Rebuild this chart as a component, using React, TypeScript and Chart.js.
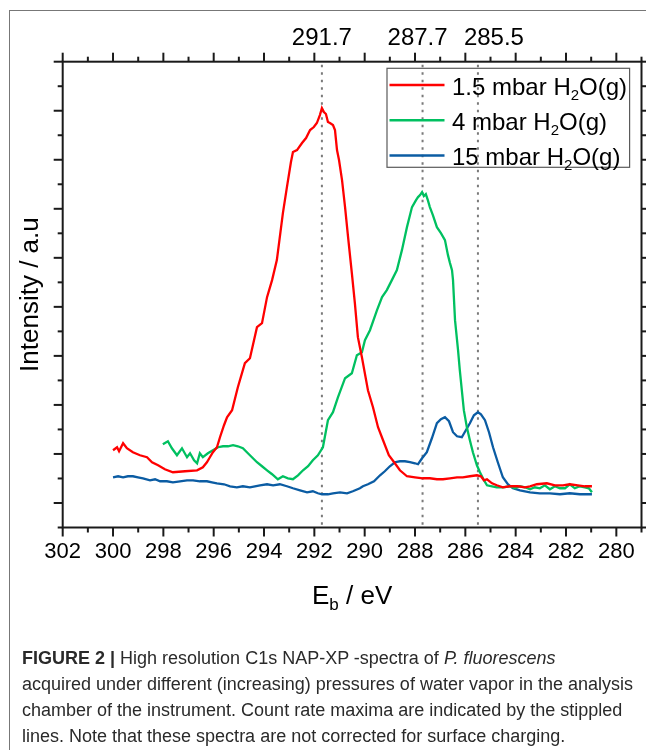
import React, { useEffect, useRef } from 'react';
import { Chart, registerables } from 'chart.js';

Chart.register(...registerables);

// ---------- data (binding energy in eV, intensity in a.u.) ----------
const redEnergy = [300.00, 299.84, 299.76, 299.60, 299.45, 299.21, 298.93, 298.65, 298.45, 298.21, 297.94, 297.62, 297.14, 296.66, 296.43, 296.27, 296.15, 296.03, 295.87, 295.75, 295.59, 295.47, 295.27, 295.04, 294.76, 294.56, 294.28, 294.08, 293.88, 293.68, 293.49, 293.25, 293.09, 292.93, 292.85, 292.69, 292.49, 292.33, 292.17, 292.02, 291.90, 291.78, 291.70, 291.62, 291.54, 291.46, 291.38, 291.26, 291.18, 291.10, 291.02, 290.90, 290.78, 290.66, 290.51, 290.39, 290.27, 290.11, 289.87, 289.67, 289.47, 289.27, 289.04, 288.80, 288.60, 288.32, 288.00, 287.69, 287.41, 287.13, 286.89, 286.61, 286.33, 286.10, 285.82, 285.54, 285.38, 285.26, 285.14, 284.94, 284.75, 284.51, 284.23, 283.91, 283.63, 283.43, 283.16, 282.76, 282.44, 282.12, 281.85, 281.53, 281.25, 280.97];
const redIntensity = [1.076, 1.137, 1.055, 1.218, 1.116, 1.035, 0.973, 0.933, 0.831, 0.769, 0.688, 0.627, 0.647, 0.667, 0.729, 0.831, 0.933, 1.035, 1.137, 1.341, 1.586, 1.749, 1.892, 2.361, 2.851, 2.953, 3.586, 3.667, 4.198, 4.545, 4.953, 5.912, 6.443, 6.953, 7.157, 7.198, 7.341, 7.443, 7.606, 7.667, 7.749, 7.912, 8.055, 7.973, 7.933, 7.769, 7.749, 7.708, 7.606, 7.198, 6.994, 6.586, 6.035, 5.422, 4.688, 4.076, 3.382, 2.973, 2.300, 1.953, 1.545, 1.280, 0.973, 0.810, 0.667, 0.545, 0.524, 0.504, 0.504, 0.484, 0.484, 0.504, 0.524, 0.524, 0.545, 0.565, 0.545, 0.463, 0.484, 0.402, 0.361, 0.320, 0.341, 0.341, 0.320, 0.341, 0.382, 0.402, 0.361, 0.361, 0.382, 0.361, 0.341, 0.341];

const greenEnergy = [298.02, 297.82, 297.66, 297.46, 297.26, 297.06, 296.94, 296.78, 296.66, 296.55, 296.43, 296.23, 296.03, 295.83, 295.63, 295.43, 295.23, 295.04, 294.84, 294.64, 294.48, 294.28, 294.08, 293.88, 293.68, 293.45, 293.25, 293.05, 292.85, 292.65, 292.45, 292.25, 292.06, 291.86, 291.66, 291.46, 291.26, 291.06, 290.78, 290.51, 290.31, 290.11, 289.99, 289.79, 289.51, 289.31, 289.12, 288.92, 288.72, 288.52, 288.32, 288.12, 287.96, 287.88, 287.80, 287.72, 287.65, 287.57, 287.49, 287.41, 287.29, 287.13, 286.97, 286.81, 286.69, 286.61, 286.53, 286.49, 286.41, 286.29, 286.22, 286.14, 286.06, 285.94, 285.82, 285.70, 285.54, 285.42, 285.26, 285.14, 284.94, 284.75, 284.51, 284.23, 284.03, 283.83, 283.63, 283.43, 283.24, 283.04, 282.84, 282.64, 282.44, 282.24, 282.04, 281.85, 281.65, 281.45, 281.25, 281.09, 280.97];
const greenIntensity = [1.198, 1.259, 1.116, 0.973, 1.116, 0.933, 1.014, 0.871, 0.810, 1.014, 0.933, 1.014, 1.076, 1.137, 1.157, 1.157, 1.178, 1.157, 1.116, 1.014, 0.933, 0.831, 0.749, 0.667, 0.586, 0.484, 0.545, 0.504, 0.484, 0.565, 0.667, 0.749, 0.871, 0.973, 1.137, 1.688, 1.851, 2.157, 2.545, 2.647, 3.014, 3.076, 3.320, 3.524, 3.933, 4.198, 4.341, 4.545, 4.749, 5.157, 5.626, 6.035, 6.178, 6.239, 6.280, 6.341, 6.259, 6.300, 6.178, 6.035, 5.871, 5.626, 5.504, 5.361, 5.055, 4.892, 4.749, 4.545, 3.729, 3.116, 2.708, 2.300, 1.892, 1.545, 1.280, 1.035, 0.769, 0.627, 0.463, 0.361, 0.341, 0.320, 0.320, 0.341, 0.300, 0.341, 0.320, 0.280, 0.320, 0.300, 0.361, 0.280, 0.341, 0.300, 0.300, 0.382, 0.300, 0.341, 0.320, 0.300, 0.218];

const blueEnergy = [300.00, 299.80, 299.60, 299.41, 299.21, 299.01, 298.81, 298.53, 298.33, 298.13, 297.86, 297.62, 297.34, 297.06, 296.82, 296.55, 296.27, 296.07, 295.87, 295.59, 295.35, 295.08, 294.84, 294.56, 294.36, 294.16, 293.88, 293.64, 293.37, 293.09, 292.85, 292.57, 292.29, 292.06, 291.86, 291.70, 291.46, 291.26, 290.98, 290.70, 290.47, 290.19, 290.07, 289.87, 289.63, 289.39, 289.20, 289.00, 288.80, 288.60, 288.40, 288.20, 288.00, 287.88, 287.72, 287.53, 287.33, 287.13, 286.97, 286.81, 286.65, 286.49, 286.33, 286.14, 285.98, 285.82, 285.66, 285.50, 285.38, 285.22, 285.06, 284.90, 284.71, 284.51, 284.31, 284.11, 283.83, 283.43, 283.04, 282.64, 282.24, 281.85, 281.45, 280.97];
const blueIntensity = [0.524, 0.545, 0.524, 0.545, 0.545, 0.524, 0.504, 0.463, 0.484, 0.443, 0.443, 0.422, 0.443, 0.463, 0.463, 0.443, 0.443, 0.422, 0.402, 0.382, 0.341, 0.320, 0.341, 0.320, 0.341, 0.361, 0.382, 0.361, 0.382, 0.341, 0.300, 0.259, 0.218, 0.239, 0.198, 0.178, 0.178, 0.198, 0.218, 0.198, 0.239, 0.300, 0.341, 0.382, 0.443, 0.565, 0.647, 0.749, 0.831, 0.851, 0.851, 0.831, 0.810, 0.790, 0.912, 1.035, 1.320, 1.627, 1.708, 1.749, 1.667, 1.443, 1.361, 1.341, 1.484, 1.627, 1.790, 1.851, 1.810, 1.688, 1.443, 1.137, 0.831, 0.524, 0.382, 0.300, 0.259, 0.218, 0.198, 0.198, 0.178, 0.198, 0.178, 0.178];

const seriesNames = ['1.5 mbar', '4 mbar', '15 mbar'];
const seriesColors = ['#ff0000', '#00c060', '#0b5ca3'];
const peakPositions = [291.7, 287.7, 285.5];
const peakLabels = ['291.7', '287.7', '285.5'];
const xTickLabels = [302, 300, 298, 296, 294, 292, 290, 288, 286, 284, 282, 280];
const xMin = 279;
const xMax = 302;
const yMin = -0.5;
const yMax = 9;

const FONT = "'Liberation Sans', Arial, sans-serif";

const line = (ctx: CanvasRenderingContext2D, x1: number, y1: number, x2: number, y2: number) => {
  ctx.beginPath();
  ctx.moveTo(x1, y1);
  ctx.lineTo(x2, y2);
  ctx.stroke();
};

const decorPlugin = {
  id: 'decor',
  beforeDatasetsDraw(chart: any) {
    const { ctx, chartArea: a, scales } = chart;
    ctx.save();
    ctx.strokeStyle = '#7a7a7a';
    ctx.lineWidth = 2;
    ctx.setLineDash([2.5, 5]);
    peakPositions.forEach((p) => {
      const px = scales.x.getPixelForValue(p);
      line(ctx, px, a.top + 3, px, a.bottom);
    });
    ctx.restore();
  },
  afterDraw(chart: any) {
    const { ctx, chartArea: a, scales } = chart;
    const xs = scales.x;
    const ys = scales.y;
    ctx.save();
    ctx.strokeStyle = '#1a1a1a';
    ctx.lineWidth = 2;
    ctx.setLineDash([]);
    ctx.strokeRect(a.left, a.top, a.right - a.left, a.bottom - a.top);
    for (let v = xMin; v <= xMax; v++) {
      const len = v % 2 === 0 ? 9 : 5;
      const px = xs.getPixelForValue(v);
      line(ctx, px, a.bottom, px, a.bottom + len);
      line(ctx, px, a.top, px, a.top - len);
    }
    for (let k = yMin * 2; k <= yMax * 2; k++) {
      const v = k / 2;
      const len = k % 2 === 0 ? 9 : 5;
      const py = ys.getPixelForValue(v);
      line(ctx, a.left - len, py, a.left, py);
      line(ctx, a.right, py, a.right + len, py);
    }

    // top labels at the peak maxima (nudged apart so they do not collide)
    ctx.fillStyle = '#000';
    ctx.font = `24px ${FONT}`;
    ctx.textAlign = 'center';
    ctx.textBaseline = 'alphabetic';
    const nudges = [0, -5, 16];
    peakLabels.forEach((lab, i) => {
      const px = xs.getPixelForValue(peakPositions[i]) + nudges[i];
      ctx.fillText(lab, px, a.top - 17);
    });

    // legend
    const bx = a.right - 254.5;
    const by = a.top + 6.6;
    const bw = 242.6;
    const bh = 99;
    ctx.lineWidth = 1.2;
    ctx.strokeStyle = '#5a5a5a';
    ctx.strokeRect(bx, by, bw, bh);
    seriesNames.forEach((name, i) => {
      const ly = by + 16.7 + i * 35.3;
      ctx.strokeStyle = seriesColors[i];
      ctx.lineWidth = 2.5;
      line(ctx, bx + 2.5, ly, bx + 57.5, ly);
      ctx.fillStyle = '#000';
      ctx.textBaseline = 'alphabetic';
      ctx.textAlign = 'left';
      let tx = bx + 65;
      const base = ly + 9.5;
      ctx.font = `24px ${FONT}`;
      const t1 = `${name} H`;
      ctx.fillText(t1, tx, base);
      tx += ctx.measureText(t1).width;
      ctx.font = `15px ${FONT}`;
      ctx.fillText('2', tx, base + 5);
      tx += ctx.measureText('2').width;
      ctx.font = `24px ${FONT}`;
      ctx.fillText('O(g)', tx, base);
    });

    // axis titles
    ctx.fillStyle = '#000';
    ctx.save();
    ctx.translate(23, (a.top + a.bottom) / 2);
    ctx.rotate(-Math.PI / 2);
    ctx.font = `26px ${FONT}`;
    ctx.textAlign = 'center';
    ctx.textBaseline = 'middle';
    ctx.fillText('Intensity / a.u', 0, 0);
    ctx.restore();

    ctx.textAlign = 'left';
    ctx.textBaseline = 'alphabetic';
    ctx.font = `26px ${FONT}`;
    const wE = ctx.measureText('E').width;
    const wRest = ctx.measureText(' / eV').width;
    ctx.font = `17px ${FONT}`;
    const wB = ctx.measureText('b').width;
    const total = wE + wB + wRest;
    let tx = (a.left + a.right) / 2 - total / 2;
    const baseY = a.bottom + 76;
    ctx.font = `26px ${FONT}`;
    ctx.fillText('E', tx, baseY);
    tx += wE;
    ctx.font = `17px ${FONT}`;
    ctx.fillText('b', tx, baseY + 6);
    tx += wB;
    ctx.font = `26px ${FONT}`;
    ctx.fillText(' / eV', tx, baseY);
    ctx.restore();
  },
};

function App() {
  const ref = useRef<HTMLCanvasElement>(null);

  useEffect(() => {
    if (!ref.current) return;
    const mk = (e: number[], v: number[]) => e.map((x, k) => ({ x, y: v[k] }));
    const energies = [redEnergy, greenEnergy, blueEnergy];
    const intensities = [redIntensity, greenIntensity, blueIntensity];
    const chart = new Chart(ref.current, {
      type: 'line',
      data: {
        datasets: seriesNames.map((n, i) => ({
          label: n,
          data: mk(energies[i], intensities[i]),
          borderColor: seriesColors[i],
          backgroundColor: seriesColors[i],
          borderWidth: 2.3,
          pointRadius: 0,
          tension: 0,
          fill: false,
        })),
      },
      options: {
        animation: false,
        responsive: false,
        maintainAspectRatio: false,
        layout: { padding: { left: 0, right: 12.5, top: 53.7, bottom: 0 } },
        plugins: { legend: { display: false }, tooltip: { enabled: false }, title: { display: false } },
        scales: {
          x: {
            type: 'linear',
            position: 'bottom',
            reverse: true,
            min: xMin,
            max: xMax,
            grid: { display: false, drawTicks: false },
            border: { display: false },
            ticks: {
              font: { size: 22, family: FONT },
              color: '#000',
              padding: 11,
              autoSkip: false,
              maxRotation: 0,
              callback: (v: any) => String(v),
            },
            afterBuildTicks: (s: any) => {
              s.ticks = xTickLabels.map((v) => ({ value: v }));
            },
            afterFit: (s: any) => {
              s.height = 120.5;
            },
          },
          y: {
            type: 'linear',
            min: yMin,
            max: yMax,
            grid: { display: false, drawTicks: false },
            border: { display: false },
            ticks: { display: false },
            afterFit: (s: any) => {
              s.width = 54.7;
            },
          },
        },
      } as any,
      plugins: [decorPlugin],
    });
    return () => chart.destroy();
  }, []);

  return (
    <div style={{ position: 'relative', width: 646, height: 742, overflow: 'hidden', background: '#fff' }}>
      <div
        style={{
          position: 'absolute',
          left: 1,
          top: 2,
          width: 800,
          height: 900,
          borderTop: '1px solid #777',
          borderLeft: '1px solid #777',
        }}
      />
      <canvas
        ref={ref}
        width={646}
        height={640}
        style={{ position: 'absolute', left: 0, top: 0, width: 646, height: 640 }}
      />
      <div
        style={{
          position: 'absolute',
          left: 14,
          top: 637,
          fontFamily: "'Liberation Sans Narrow', 'Arial Narrow', 'Liberation Sans', Arial, sans-serif",
          fontSize: 18,
          lineHeight: '26px',
          color: '#2a2a2a',
          whiteSpace: 'nowrap',
        }}
      >
        <div>
          <b>FIGURE 2 |</b> High resolution C1s NAP-XP -spectra of <i>P. fluorescens</i>
        </div>
        <div>acquired under different (increasing) pressures of water vapor in the analysis</div>
        <div>chamber of the instrument. Count rate maxima are indicated by the stippled</div>
        <div>lines. Note that these spectra are not corrected for surface charging.</div>
      </div>
    </div>
  );
}

export default App;
